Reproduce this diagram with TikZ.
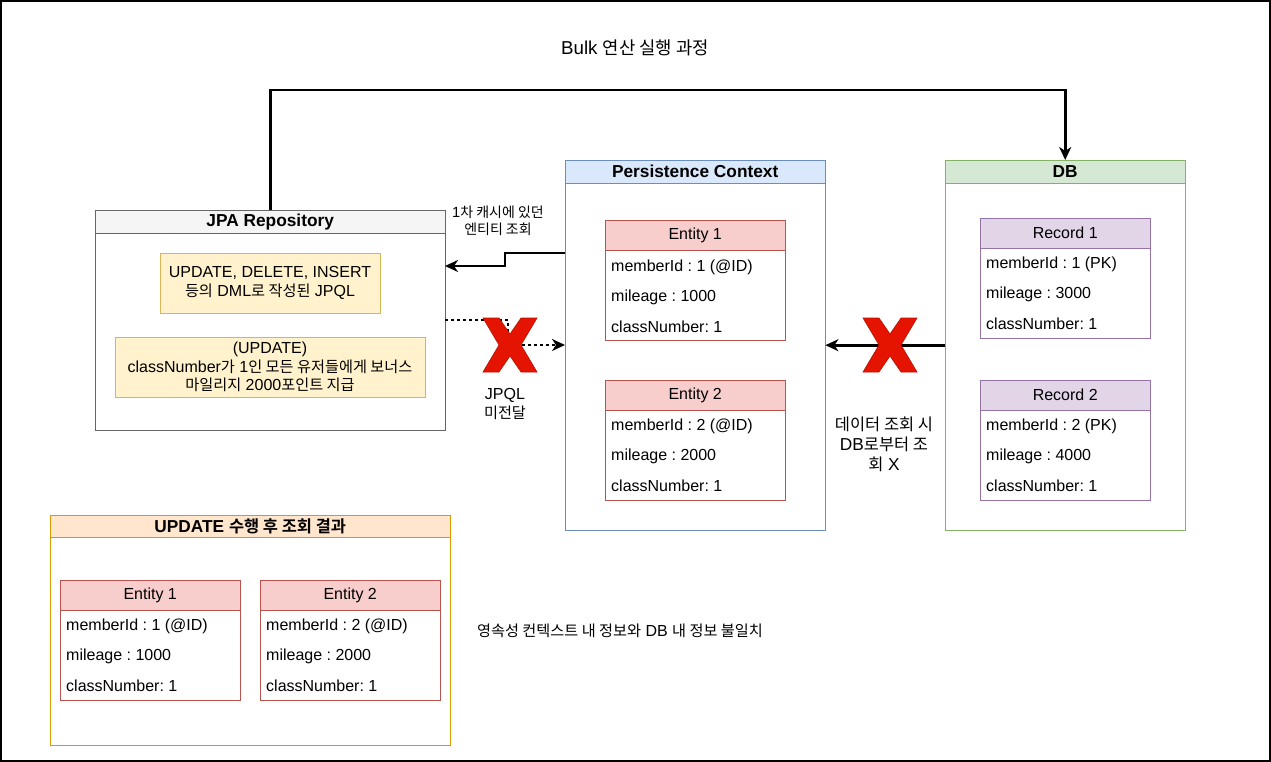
\documentclass[tikz,border=0pt]{standalone}
\usepackage{fontspec}
\setmainfont{Liberation Sans}
\newfontfamily\kofont[Scale=0.95,BoldFont={* Bold}]{Noto Sans CJK KR}
\newcommand{\ko}[1]{{\kofont #1}}
\usetikzlibrary{arrows.meta}
\frenchspacing

\definecolor{hdrgray}{HTML}{F5F5F5}
\definecolor{linegray}{HTML}{666666}
\definecolor{pcfill}{HTML}{DAE8FC}
\definecolor{pcline}{HTML}{6C8EBF}
\definecolor{dbfill}{HTML}{D5E8D4}
\definecolor{dbline}{HTML}{82B366}
\definecolor{entfill}{HTML}{F8CECC}
\definecolor{entline}{HTML}{B85450}
\definecolor{recfill}{HTML}{E1D5E7}
\definecolor{recline}{HTML}{9673A6}
\definecolor{notefill}{HTML}{FFF2CC}
\definecolor{noteline}{HTML}{D6B656}
\definecolor{resfill}{HTML}{FFE6CC}
\definecolor{resline}{HTML}{D79B00}
\definecolor{xred}{HTML}{E51400}

\tikzset{
  txt/.style={font=\fontsize{16}{18.5}\selectfont, inner sep=0pt, align=center},
  small/.style={font=\fontsize{14.7}{17}\selectfont, inner sep=0pt, align=center},
  frame/.style={draw=#1, fill=white, anchor=north west, inner sep=0pt},
  head/.style={draw=#1, anchor=north west, inner sep=0pt, font=\bfseries\fontsize{17.3}{20}\selectfont},
  tabhead/.style={draw=#1, anchor=north west, inner sep=0pt, minimum width=180, minimum height=30, font=\fontsize{16}{18.5}\selectfont},
  row/.style={anchor=west, inner sep=0pt, font=\fontsize{16}{18.5}\selectfont},
  flow/.style={line width=2.7pt, -{Stealth[length=13pt,width=12pt,inset=4pt]}},
  cross/.style={fill=xred, draw=xred!80!black, line width=0.6pt},
}

\begin{document}
\begin{tikzpicture}[x=1pt,y=-1pt]
  % Frame
  \draw[line width=2pt] (1,1) rectangle (1270,761);
  \node[txt, font=\fontsize{18.7}{21}\selectfont] (title) at (635,48) {Bulk \ko{연산 실행 과정}};

  % JPA Repository
  \node[frame=linegray, minimum width=350, minimum height=220] (repo) at (95,210) {};
  \node[head=linegray, fill=hdrgray, minimum width=350, minimum height=23] (repohead) at (95,210) {JPA Repository};
  \node[txt, draw=noteline, fill=notefill, minimum width=220, minimum height=60] (dml) at (270,283) {UPDATE, DELETE, INSERT\\\ko{등의} DML\ko{로 작성된} JPQL};
  \node[txt, draw=noteline, fill=notefill, minimum width=310, minimum height=60] (bonus) at (270,367) {(UPDATE)\\classNumber\ko{가} 1\ko{인 모든 유저들에게 보너스}\\\ko{마일리지} 2000\ko{포인트 지급}};

  % Persistence Context
  \node[frame=pcline, minimum width=260, minimum height=370] (pc) at (565,160) {};
  \node[head=pcline, fill=pcfill, minimum width=260, minimum height=23] (pchead) at (565,160) {Persistence Context};
  \node[frame=entline, minimum width=180, minimum height=120] (e1) at (605,220) {};
  \node[tabhead=entline, fill=entfill] (e1head) at (605,220) {Entity 1};
  \node[row] (e1id) at (611,267) {memberId : 1 (@ID)};
  \node[row] (e1mil) at (611,297) {mileage : 1000};
  \node[row] (e1cls) at (611,327) {classNumber: 1};
  \node[frame=entline, minimum width=180, minimum height=120] (e2) at (605,380) {};
  \node[tabhead=entline, fill=entfill] (e2head) at (605,380) {Entity 2};
  \node[row] (e2id) at (611,426) {memberId : 2 (@ID)};
  \node[row] (e2mil) at (611,456) {mileage : 2000};
  \node[row] (e2cls) at (611,486) {classNumber: 1};

  % DB
  \node[frame=dbline, minimum width=240, minimum height=370] (db) at (945,160) {};
  \node[head=dbline, fill=dbfill, minimum width=240, minimum height=23] (dbhead) at (945,160) {DB};
  \node[frame=recline, minimum width=170, minimum height=120] (r1) at (980,218) {};
  \node[tabhead=recline, fill=recfill, minimum width=170] (r1head) at (980,218) {Record 1};
  \node[row] (r1id) at (986,264) {memberId : 1 (PK)};
  \node[row] (r1mil) at (986,294) {mileage : 3000};
  \node[row] (r1cls) at (986,324) {classNumber: 1};
  \node[frame=recline, minimum width=170, minimum height=120] (r2) at (980,380) {};
  \node[tabhead=recline, fill=recfill, minimum width=170] (r2head) at (980,380) {Record 2};
  \node[row] (r2id) at (986,426) {memberId : 2 (PK)};
  \node[row] (r2mil) at (986,456) {mileage : 4000};
  \node[row] (r2cls) at (986,486) {classNumber: 1};

  % Result
  \node[frame=resline, minimum width=400, minimum height=230] (res) at (50,515) {};
  \node[head=resline, fill=resfill, minimum width=400, minimum height=22] (reshead) at (50,515) {UPDATE \ko{수행 후 조회 결과}};
  \node[frame=entline, minimum width=180, minimum height=120] (re1) at (60,580) {};
  \node[tabhead=entline, fill=entfill] (re1head) at (60,580) {Entity 1};
  \node[row] (re1id) at (66,626) {memberId : 1 (@ID)};
  \node[row] (re1mil) at (66,656) {mileage : 1000};
  \node[row] (re1cls) at (66,686) {classNumber: 1};
  \node[frame=entline, minimum width=180, minimum height=120] (re2) at (260,580) {};
  \node[tabhead=entline, fill=entfill] (re2head) at (260,580) {Entity 2};
  \node[row] (re2id) at (266,626) {memberId : 2 (@ID)};
  \node[row] (re2mil) at (266,656) {mileage : 2000};
  \node[row] (re2cls) at (266,686) {classNumber: 1};

  % Labels
  \node[small] (cachelbl) at (498,221) {1\ko{차 캐시에 있던}\\\ko{엔티티 조회}};
  \node[txt] (jpqllbl) at (505,404) {JPQL\\\ko{미전달}};
  \node[txt, font=\fontsize{17.3}{20}\selectfont] (dblbl) at (884,444) {\ko{데이터 조회 시}\\DB\ko{로부터 조}\\\ko{회} X};
  \node[txt] (note) at (620,631) {\ko{영속성 컨텍스트 내 정보와} DB \ko{내 정보 불일치}};

  % Edges
  \coordinate (pcout) at (565,253);
  \coordinate (pcin) at (565,345);
  \coordinate (repoin) at (445,266);
  \coordinate (repoout) at (445,320);
  \draw[flow] (repohead.north) -- ++(0,-120) -| (dbhead.north);
  \draw[flow] (pcout) -- ++(-60,0) |- (repoin);
  \draw[flow, dash pattern=on 3pt off 3pt] (repoout) -- ++(63,0) |- (pcin);
  \draw[flow] (db.west) -- (pc.east);

  % Crosses
  \coordinate (x1) at (510,345);
  \coordinate (x2) at (890,345);
  \foreach \c in {x1,x2}
    \draw[cross, shift={(\c)}] (-27,-27) -- (-11,-27) -- (0,-11) -- (11,-27) -- (27,-27) -- (11,0)
      -- (27,27) -- (11,27) -- (0,11) -- (-11,27) -- (-27,27) -- (-11,0) -- cycle;
\end{tikzpicture}
\end{document}
